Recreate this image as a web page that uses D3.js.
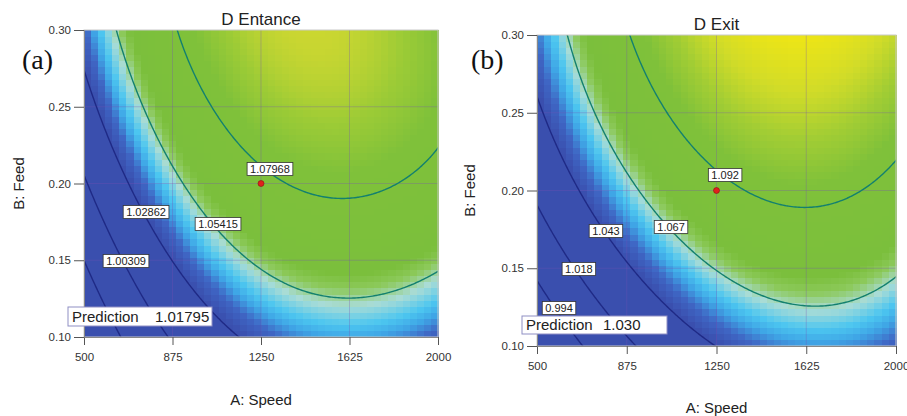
<!DOCTYPE html>
<html><head><meta charset="utf-8">
<script src="https://cdn.jsdelivr.net/npm/d3@7"></script>
<style>
body{margin:0;background:#fff;}
svg{display:block;font-family:Arial,"Liberation Sans",sans-serif;}
</style>
</head><body>
<svg id="chart" width="907" height="416"></svg>
<script>
// ---------------- DATA ----------------
const speedDomain = [500, 2000];
const feedDomain = [0.10, 0.30];
const speedTicks = [500, 875, 1250, 1625, 2000];
const feedTicks = [0.10, 0.15, 0.20, 0.25, 0.30];

// Panel (a) D Entance: contour levels, labels and traced contour points [speed, feed]
const levelsA = [0.97756, 1.00309, 1.02862, 1.05415, 1.07968];
const labelTextA = ["", "1.00309", "1.02862", "1.05415", "1.07968"];
const labelPosA = [null, [678, 0.1495], [763, 0.1814], [1068, 0.1736], [1288, 0.2094]];
const tracesA = [
  [[500,0.1515],[538,0.1417],[665,0.100]],
  [[500,0.1958],[682,0.1495],[780,0.100]],
  [[500,0.2739],[559,0.2492],[682,0.1990],[767,0.1814],[873,0.1502],[1191,0.100]],
  [[644,0.2993],[750,0.2492],[919,0.1990],[1068,0.1736],[1246,0.1450],[1458,0.1274],[1636,0.1208],[1881,0.1274],[2000,0.1450]],
  [[898,0.2993],[1047,0.2492],[1203,0.2147],[1288,0.2075],[1386,0.1960],[1636,0.1866],[1852,0.2023],[2000,0.2329]]
];
// spot values read from the colour field [speed, feed, response]
const anchorsA = [[500,0.30,1.036],[1250,0.30,1.098],[1480,0.30,1.102],[2000,0.30,1.088],[1625,0.25,1.092],
                  [2000,0.114,1.045],[2000,0.10,1.031],[1625,0.107,1.045],[1625,0.10,1.036],[1300,0.10,1.030],
                  [500,0.10,0.948]];
const predictionA = ["Prediction", "1.01795"];

// Panel (b) D Exit
const levelsB = [0.994, 1.018, 1.043, 1.067, 1.092];
const labelTextB = ["0.994", "1.018", "1.043", "1.067", "1.092"];
const labelPosB = [[592, 0.1244], [675, 0.1495], [788, 0.1740], [1060, 0.1765], [1286, 0.2100]];
const tracesB = [
  [[504,0.1380],[588,0.1244],[680,0.100]],
  [[504,0.1855],[680,0.1495],[909,0.100]],
  [[504,0.2595],[667,0.2023],[792,0.1746],[876,0.1502],[1202,0.100]],
  [[630,0.2987],[734,0.2518],[901,0.2023],[1064,0.1765],[1252,0.1508],[1628,0.1244],[2000,0.1412]],
  [[897,0.2987],[1043,0.2518],[1210,0.2177],[1336,0.2045],[1528,0.1920],[1628,0.1881],[2000,0.2215]]
];
const anchorsB = [[500,0.30,1.052],[1250,0.30,1.116],[1500,0.30,1.122],[2000,0.30,1.110],[1625,0.25,1.112],
                  [2000,0.120,1.060],[2000,0.10,1.046],[1625,0.113,1.060],[1625,0.10,1.050],[1300,0.10,1.045],
                  [500,0.10,0.965]];
const predictionB = ["Prediction", "1.030"];

// design point (red dot)
const designPoint = [1250, 0.20];

// colour ramps (response value -> colour)
const rampZA = [1.030, 1.037, 1.042, 1.046, 1.052, 1.057, 1.061, 1.085, 1.093, 1.100, 1.106];
const rampColorsA = ["#3a4fae","#3f66c4","#3fa6e6","#4cc6f0","#a9dcd6","#8cc95a","#7bbf3c","#7fc13a","#9ccb36","#c8d631","#dedd2a"];
const rampZB = [1.0443, 1.0511, 1.0565, 1.0605, 1.0660, 1.0710, 1.075, 1.097, 1.106, 1.114, 1.122];
const rampColorsB = ["#3a4fae","#3f66c4","#3fa6e6","#4cc6f0","#a9dcd6","#8cc95a","#7bbf3c","#7fc13a","#a2cd34","#d2dc28","#f0e614"];

// ---------------- MODEL FIT (cubic response surface, coded units) ----------------
function coded(S, F) { return [(S - 1250) / 750, (F - 0.2) / 0.1]; }
function basis(a, b) { return [1, a, b, a*b, a*a, b*b, a*a*b, a*b*b, a*a*a, b*b*b]; }
function fitSurface(levels, traces, anchors) {
  const rows = [], ys = [], ws = [];
  traces.forEach((tr, k) => tr.forEach(([S, F]) => { const [a, b] = coded(S, F); rows.push(basis(a, b)); ys.push(levels[k]); ws.push(1); }));
  anchors.forEach(([S, F, z]) => { const [a, b] = coded(S, F); rows.push(basis(a, b)); ys.push(z); ws.push(0.35); });
  const p = rows[0].length;
  const M = Array.from({length: p}, () => new Array(p + 1).fill(0));
  rows.forEach((r, n) => { for (let i = 0; i < p; i++) { for (let j = 0; j < p; j++) M[i][j] += ws[n] * r[i] * r[j]; M[i][p] += ws[n] * r[i] * ys[n]; } });
  for (let i = 1; i < p; i++) M[i][i] += 1e-7;
  for (let c = 0; c < p; c++) {
    let piv = c;
    for (let r = c + 1; r < p; r++) if (Math.abs(M[r][c]) > Math.abs(M[piv][c])) piv = r;
    [M[c], M[piv]] = [M[piv], M[c]];
    for (let r = 0; r < p; r++) { if (r === c) continue; const f = M[r][c] / M[c][c]; for (let k = c; k <= p; k++) M[r][k] -= f * M[c][k]; }
  }
  const coef = M.map((row, i) => row[p] / row[i]);
  return (a, b) => basis(a, b).reduce((s, v, i) => s + v * coef[i], 0);
}

// ---------------- DRAW ----------------
const svg = d3.select("#chart");

function drawPanel(cfg) {
  const {x0, x1, y0, y1, id} = cfg;
  const xS = d3.scaleLinear().domain(speedDomain).range([x0, x1]);
  const yS = d3.scaleLinear().domain(feedDomain).range([y1, y0]);
  const f = fitSurface(cfg.levels, cfg.traces, cfg.anchors);
  const zAt = (S, F) => { const [a, b] = coded(S, F); return f(a, b); };
  const color = d3.scaleLinear().domain(cfg.rampZ).range(cfg.rampC).interpolate(d3.interpolateRgb).clamp(true);
  const g = svg.append("g");

  // heat map cells
  const N = 50;
  const dS = (speedDomain[1] - speedDomain[0]) / N, dF = (feedDomain[1] - feedDomain[0]) / N;
  const cells = [];
  for (let i = 0; i < N; i++) for (let j = 0; j < N; j++) {
    const S = speedDomain[0] + i * dS, F = feedDomain[0] + j * dF;
    cells.push({S, F, z: zAt(S + dS / 2, F + dF / 2)});
  }
  g.append("g").selectAll("rect").data(cells).join("rect")
    .attr("x", d => xS(d.S)).attr("y", d => yS(d.F + dF))
    .attr("width", d => xS(d.S + dS) - xS(d.S) + 0.6)
    .attr("height", d => yS(d.F) - yS(d.F + dF) + 0.6)
    .attr("fill", d => color(d.z)).attr("shape-rendering", "crispEdges");

  // grid lines
  const grid = g.append("g").attr("stroke", "rgba(120,80,180,0.34)").attr("stroke-width", 0.9);
  speedTicks.slice(1, -1).forEach(s => grid.append("line").attr("x1", xS(s)).attr("x2", xS(s)).attr("y1", y0).attr("y2", y1));
  feedTicks.slice(1, -1).forEach(v => grid.append("line").attr("x1", x0).attr("x2", x1).attr("y1", yS(v)).attr("y2", yS(v)));

  // contour lines (extended grid, clipped to the plot)
  const g0 = -1.15, step = 0.01, n = 231;
  const vals = new Float64Array(n * n);
  for (let j = 0; j < n; j++) for (let i = 0; i < n; i++) vals[i + j * n] = f(g0 + i * step, g0 + j * step);
  const conts = d3.contours().size([n, n]).thresholds(cfg.levels)(vals);
  const proj = d3.geoTransform({point: function(x, y) {
    const a = g0 + (x - 0.5) * step, b = g0 + (y - 0.5) * step;
    this.stream.point(xS(1250 + 750 * a), yS(0.2 + 0.1 * b));
  }});
  const path = d3.geoPath(proj);
  svg.append("clipPath").attr("id", "clip" + id).append("rect")
    .attr("x", x0).attr("y", y0).attr("width", x1 - x0).attr("height", y1 - y0);
  g.append("g").attr("clip-path", `url(#clip${id})`).selectAll("path").data(conts).join("path")
    .attr("d", path).attr("fill", "none")
    .attr("stroke", (d, i) => i < 3 ? "#1f2a86" : "#13806f")
    .attr("stroke-width", 1.4);

  // frame
  g.append("rect").attr("x", x0).attr("y", y0).attr("width", x1 - x0).attr("height", y1 - y0)
    .attr("fill", "none").attr("stroke", "#c9c9c9").attr("stroke-width", 1);

  // axes
  const ax = g.append("g").attr("transform", `translate(0,${y1})`)
    .call(d3.axisBottom(xS).tickValues(speedTicks).tickFormat(d3.format("d")).tickSize(8).tickPadding(8));
  const ay = g.append("g").attr("transform", `translate(${x0},0)`)
    .call(d3.axisLeft(yS).tickValues(feedTicks).tickFormat(d3.format(".2f")).tickSize(10).tickPadding(3));
  [ax, ay].forEach(a => {
    a.select(".domain").attr("stroke", "#888");
    a.selectAll(".tick line").attr("stroke", "#555");
    a.selectAll("text").attr("fill", "#333").style("font-size", "11.5px").style("font-family", "Arial, 'Liberation Sans', sans-serif");
  });

  // design point
  g.append("circle").attr("cx", xS(designPoint[0])).attr("cy", yS(designPoint[1])).attr("r", 3)
    .attr("fill", "#e0201c").attr("stroke", "#8a1010").attr("stroke-width", 0.6);

  // contour labels
  cfg.labelText.forEach((t, i) => {
    if (!t) return;
    const p = cfg.labelPos[i];
    const lg = g.append("g").attr("transform", `translate(${xS(p[0])},${yS(p[1])})`);
    const txt = lg.append("text").attr("text-anchor", "middle").attr("dy", "0.36em")
      .style("font-size", "11px").attr("fill", "#222").text(t);
    const w = txt.node().getComputedTextLength() + 6;
    lg.insert("rect", "text").attr("x", -w / 2).attr("y", -6.5).attr("width", w).attr("height", 13)
      .attr("fill", "#fff").attr("stroke", "#333").attr("stroke-width", 0.8);
  });

  // prediction flag
  const pb = cfg.predBox;
  const pg = g.append("g");
  pg.append("rect").attr("x", pb[0]).attr("y", pb[1]).attr("width", pb[2]).attr("height", pb[3])
    .attr("fill", "#fff").attr("stroke", "#8f8fc4").attr("stroke-width", 1);
  pg.append("text").attr("x", pb[0] + 4).attr("y", pb[1] + pb[3] / 2).attr("dy", "0.36em")
    .style("font-size", "15px").attr("fill", "#222").text(cfg.pred[0]);
  pg.append("text").attr("x", pb[0] + pb[4]).attr("y", pb[1] + pb[3] / 2).attr("dy", "0.36em")
    .style("font-size", "15px").attr("fill", "#222").text(cfg.pred[1]);

  // titles and axis names
  g.append("text").attr("x", (x0 + x1) / 2).attr("y", cfg.titleY).attr("text-anchor", "middle")
    .style("font-size", "17px").attr("fill", "#222").text(cfg.title);
  g.append("text").attr("x", (x0 + x1) / 2).attr("y", cfg.xLabY).attr("text-anchor", "middle")
    .style("font-size", "15px").attr("fill", "#222").text("A: Speed");
  g.append("text").attr("transform", `translate(${cfg.yLabX},${(y0 + y1) / 2}) rotate(-90)`)
    .attr("text-anchor", "middle").style("font-size", "15px").attr("fill", "#222").text("B: Feed");
  g.append("text").attr("x", cfg.tag[1]).attr("y", cfg.tag[2])
    .style("font-family", "'Liberation Serif','Times New Roman',serif").style("font-size", "28px")
    .attr("fill", "#111").text(cfg.tag[0]);
}

drawPanel({id: "a", x0: 84, x1: 438, y0: 30, y1: 337, levels: levelsA, traces: tracesA, anchors: anchorsA,
  rampZ: rampZA, rampC: rampColorsA, labelText: labelTextA, labelPos: labelPosA,
  pred: predictionA, predBox: [68, 307, 144, 19, 87], title: "D Entance", titleY: 25, xLabY: 405, yLabX: 24,
  tag: ["(a)", 22, 69]});
drawPanel({id: "b", x0: 537, x1: 896, y0: 35, y1: 346, levels: levelsB, traces: tracesB, anchors: anchorsB,
  rampZ: rampZB, rampC: rampColorsB, labelText: labelTextB, labelPos: labelPosB,
  pred: predictionB, predBox: [522, 316, 145, 18, 81], title: "D Exit", titleY: 30, xLabY: 413, yLabX: 475,
  tag: ["(b)", 471, 69]});
</script>
</body></html>
